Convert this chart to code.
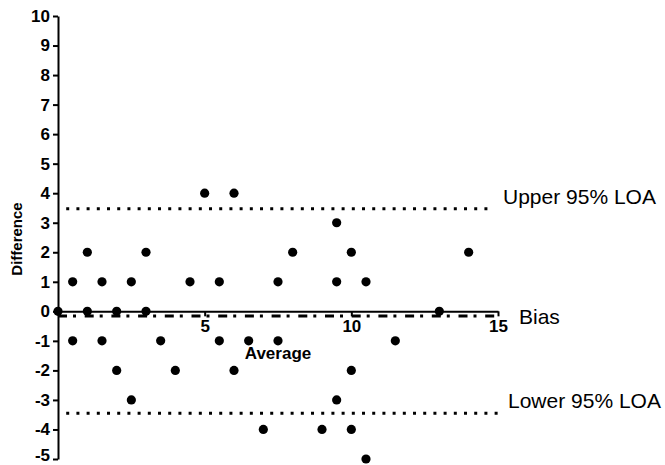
<!DOCTYPE html>
<html>
<head>
<meta charset="utf-8">
<script src="https://cdn.jsdelivr.net/npm/d3@7"></script>
<style>
  body { margin: 0; background: #fff; }
  text { font-family: 'Liberation Sans', Arial, sans-serif; }
</style>
</head>
<body>
<div id="root"></div>
<script>
const width = 665;
const height = 465;
const margin = { top: 16, right: 167, bottom: 6, left: 58 };

// Data

const averages = [
  0, 0.5, 0.5, 1, 1, 1.5, 1.5, 2, 2, 2.5, 2.5, 3, 3, 3.5, 4, 4.5, 5, 5.5, 5.5,
  6, 6, 6.5, 7, 7.5, 7.5, 8, 9, 9.5, 9.5, 9.5, 10, 10, 10, 10.5, 10.5, 11.5,
  13, 14,
];
const differences = [
  0, 1, -1, 2, 0, 1, -1, 0, -2, 1, -3, 2, 0, -1, -2, 1, 4, 1, -1,
  4, -2, -1, -4, 1, -1, 2, -4, 3, 1, -3, 2, -2, -4, 1, -5, -1,
  0, 2,
];

const bias = -0.16;
const upperLOA = 3.47;
const lowerLOA = -3.45;

const xTicks = [5, 10, 15];
const yTicks = [-5, -4, -3, -2, -1, 0, 1, 2, 3, 4, 5, 6, 7, 8, 9, 10];

const data = averages.map((a, i) => ({ x: a, y: differences[i] }));

// Main canvas

const svg = d3
  .select('#root')
  .append('svg')
  .attr('width', width)
  .attr('height', height);

// Scales

const xScale = d3
  .scaleLinear()
  .domain([0, 15])
  .range([margin.left, width - margin.right]);

const yScale = d3
  .scaleLinear()
  .domain([-5, 10])
  .range([height - margin.bottom, margin.top]);

// Reference lines

const lineStart = 0.28;
const lineEnd = 14.8;

svg
  .append('line')
  .attr('x1', xScale(lineStart))
  .attr('x2', xScale(lineEnd))
  .attr('y1', yScale(upperLOA))
  .attr('y2', yScale(upperLOA))
  .attr('stroke', '#000')
  .attr('stroke-width', 3)
  .attr('stroke-dasharray', '3,7.2');

svg
  .append('line')
  .attr('x1', xScale(lineStart))
  .attr('x2', xScale(lineEnd + 0.2))
  .attr('y1', yScale(lowerLOA))
  .attr('y2', yScale(lowerLOA))
  .attr('stroke', '#000')
  .attr('stroke-width', 3)
  .attr('stroke-dasharray', '3,7.2');

svg
  .append('line')
  .attr('x1', xScale(0))
  .attr('x2', xScale(15))
  .attr('y1', yScale(bias))
  .attr('y2', yScale(bias))
  .attr('stroke', '#000')
  .attr('stroke-width', 3)
  .attr('stroke-dasharray', '9,6,3,8.7');

// Axes (plain hyphen for negatives, as in the original)

const xAxis = d3
  .axisBottom(xScale)
  .tickValues(xTicks)
  .tickFormat((d) => String(d))
  .tickSize(5)
  .tickSizeOuter(0)
  .tickPadding(4);

const gx = svg
  .append('g')
  .attr('id', 'x-axis')
  .attr('transform', `translate(0, ${yScale(0)})`)
  .call(xAxis);

const yAxis = d3
  .axisLeft(yScale)
  .tickValues(yTicks)
  .tickFormat((d) => String(d))
  .tickSize(5)
  .tickSizeOuter(0)
  .tickPadding(3);

const gy = svg
  .append('g')
  .attr('id', 'y-axis')
  .attr('transform', `translate(${margin.left}, 0)`)
  .call(yAxis);

[gx, gy].forEach((g) => {
  g.select('.domain').attr('stroke', '#000').attr('stroke-width', 2);
  g.selectAll('.tick line').attr('stroke', '#000').attr('stroke-width', 2);
  g.selectAll('.tick text')
    .attr('fill', '#000')
    .style('font-size', '17px')
    .style('font-weight', 'bold');
});

// lift the bottom label a little so it stays inside the picture
gy.selectAll('.tick text')
  .filter((d) => d === -5)
  .attr('dy', '0.08em');

// Axis titles

svg
  .append('text')
  .attr('x', 278)
  .attr('y', 359)
  .attr('text-anchor', 'middle')
  .style('font-size', '17px')
  .style('font-weight', 'bold')
  .text('Average');

svg
  .append('text')
  .attr('transform', 'translate(22, 239) rotate(-90)')
  .attr('text-anchor', 'middle')
  .style('font-size', '15px')
  .style('font-weight', 'bold')
  .text('Difference');

// Points

svg
  .selectAll('circle')
  .data(data)
  .enter()
  .append('circle')
  .attr('cx', (d) => xScale(d.x))
  .attr('cy', (d) => yScale(d.y))
  .attr('r', 4.6)
  .attr('fill', '#000');

// Line labels

const labels = [
  { text: 'Upper 95% LOA', x: 503, y: upperLOA, dy: -12 },
  { text: 'Bias', x: 519, y: bias, dy: 0 },
  { text: 'Lower 95% LOA', x: 508, y: lowerLOA, dy: -13 },
];

svg
  .selectAll('.line-label')
  .data(labels)
  .enter()
  .append('text')
  .attr('class', 'line-label')
  .attr('x', (d) => d.x)
  .attr('y', (d) => yScale(d.y) + d.dy)
  .attr('dominant-baseline', 'central')
  .style('font-size', '21px')
  .text((d) => d.text);
</script>
</body>
</html>
